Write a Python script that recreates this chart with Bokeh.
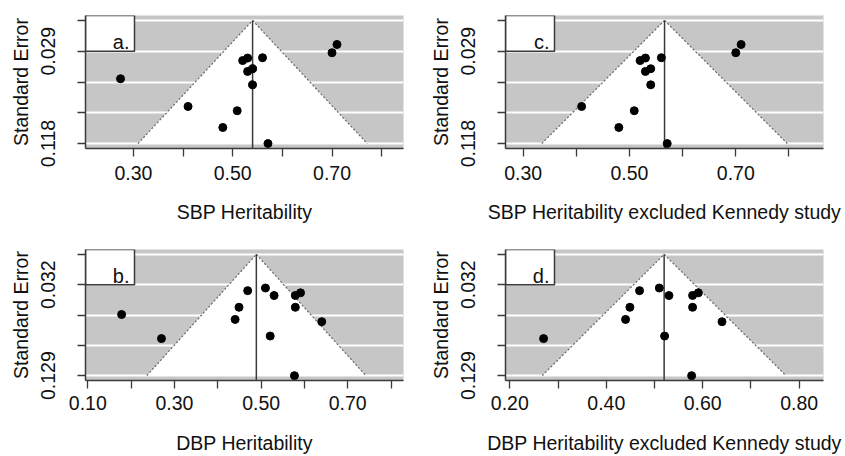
from bokeh.plotting import figure
from bokeh.models import Range1d, FixedTicker, CustomJSTickFormatter, Label
from bokeh.layouts import column, row
from bokeh.embed import file_html
from bokeh.resources import INLINE

FONT = "Liberation Sans"
FS = "19.5px"

# SBP heritability studies (Kennedy study kept separately)
sbp_h2 = [0.410, 0.480, 0.509, 0.520, 0.530, 0.530, 0.540, 0.540, 0.560, 0.571, 0.700, 0.710]
sbp_se = [0.0823, 0.1024, 0.0864, 0.0384, 0.0360, 0.0488, 0.0462, 0.0616, 0.0357, 0.1178, 0.0309, 0.0230]
sbp_kennedy_h2 = [0.274]
sbp_kennedy_se = [0.0558]
sbp_pooled_all = 0.540
sbp_pooled_excl = 0.566
sbp_se_max = 0.1178

# DBP heritability studies (Kennedy study kept separately)
dbp_h2 = [0.270, 0.440, 0.449, 0.469, 0.510, 0.530, 0.521, 0.579, 0.591, 0.579, 0.640, 0.577]
dbp_se = [0.0896, 0.0692, 0.0563, 0.0386, 0.0358, 0.0438, 0.0869, 0.0437, 0.0409, 0.0563, 0.0716, 0.1290]
dbp_kennedy_h2 = [0.178]
dbp_kennedy_se = [0.0640]
dbp_pooled_all = 0.489
dbp_pooled_excl = 0.520
dbp_se_max = 0.129

# tick values and labels
x_ticks_a = [0.3, 0.4, 0.5, 0.6, 0.7, 0.8]
x_labels_a = ["0.30", "", "0.50", "", "0.70", ""]
x_ticks_b = [0.1, 0.2, 0.3, 0.4, 0.5, 0.6, 0.7, 0.8]
x_labels_b = ["0.10", "", "0.30", "", "0.50", "", "0.70", ""]
x_ticks_d = [0.2, 0.3, 0.4, 0.5, 0.6, 0.7, 0.8]
x_labels_d = ["0.20", "", "0.40", "", "0.60", "", "0.80"]
y_labels_sbp = ["", "0.029", "", "", "0.118"]
y_labels_dbp = ["", "0.032", "", "", "0.129"]

GREY = "#c6c6c6"
DARK = "#3a3a3a"
TXT = "#111111"


def fmt(vals, labs):
    return CustomJSTickFormatter(args=dict(vals=vals, labs=labs), code="""
        for (let i = 0; i < vals.length; i++) {
            if (Math.abs(tick - vals[i]) < 1e-6) return labs[i];
        }
        return "";
    """)


def panel(h2, se, pooled, se_max, xr, xt, xl, yl, title, tag, width, height, mb, xso):
    left, right, top, bottom = mb
    frame_w = width - left - right
    ystart, yend = 1.04 * se_max, -0.04 * se_max
    p = figure(width=width, height=height, output_backend="svg", toolbar_location=None,
               x_range=Range1d(*xr), y_range=Range1d(ystart, yend),
               min_border_left=left, min_border_right=right,
               min_border_top=top, min_border_bottom=bottom)
    p.background_fill_color = GREY
    p.border_fill_color = "white"
    p.outline_line_color = None
    yt = [0, se_max / 4, se_max / 2, 3 * se_max / 4, se_max]
    xpx = (xr[1] - xr[0]) / frame_w     # data units per pixel (x)

    # funnel
    z = 1.96
    lx, rx = pooled - z * se_max, pooled + z * se_max
    p.patch([lx, pooled, rx], [se_max, 0, se_max], fill_color="white", line_color=None)
    p.line([lx, pooled], [se_max, 0], line_color="#666666", line_width=1.2, line_dash="2 2")
    p.line([pooled, rx], [0, se_max], line_color="#666666", line_width=1.2, line_dash="2 2")
    p.segment(x0=[pooled], y0=[0], x1=[pooled], y1=[ystart], line_color=DARK, line_width=1.5)
    p.scatter(h2, se, size=8, color="black")

    # tag box
    bx1 = xr[0] + 49 * xpx
    p.quad(left=[xr[0]], right=[bx1], top=[yend], bottom=[se_max / 4],
           fill_color="white", line_color=DARK, line_width=1.5)
    p.add_layout(Label(x=bx1 - 5 * xpx, y=0.7 * se_max / 4, text=tag, text_align="right",
                       text_baseline="alphabetic", text_font=FONT, text_font_size="20px",
                       text_color=TXT))

    p.xgrid.visible = False
    p.ygrid.ticker = FixedTicker(ticks=yt)
    p.ygrid.grid_line_color = "white"
    p.ygrid.grid_line_width = 2

    for ax in (p.xaxis[0], p.yaxis[0]):
        ax.axis_line_color = DARK
        ax.axis_line_width = 1.5
        ax.major_tick_line_color = DARK
        ax.major_tick_line_width = 1.3
        ax.major_tick_out = 8
        ax.major_tick_in = 0
        ax.minor_tick_out = 0
        ax.minor_tick_in = 0
        ax.major_label_text_font = FONT
        ax.major_label_text_font_size = FS
        ax.major_label_text_color = TXT
        ax.axis_label_text_font = FONT
        ax.axis_label_text_font_size = FS
        ax.axis_label_text_font_style = "normal"
        ax.axis_label_text_color = TXT

    p.xaxis.ticker = FixedTicker(ticks=xt)
    p.xaxis.formatter = fmt(xt, xl)
    p.xaxis.axis_label = title
    p.xaxis.major_label_standoff = xso[0]
    p.xaxis.axis_label_standoff = xso[1]

    p.yaxis.ticker = FixedTicker(ticks=yt)
    p.yaxis.formatter = fmt(yt, yl)
    p.yaxis.axis_label = "Standard Error"
    p.yaxis.major_label_orientation = "vertical"
    p.yaxis.major_label_standoff = 22
    p.yaxis.axis_label_standoff = 7
    return p


pa = panel(sbp_kennedy_h2 + sbp_h2, sbp_kennedy_se + sbp_se, sbp_pooled_all, sbp_se_max,
           (0.2034, 0.844), x_ticks_a, x_labels_a, y_labels_sbp, "SBP Heritability", "a.",
           424, 227, (85, 21, 15, 79), (9, 18))
pc = panel(sbp_h2, sbp_se, sbp_pooled_excl, sbp_se_max,
           (0.2668, 0.865), x_ticks_a, x_labels_a, y_labels_sbp,
           "SBP Heritability excluded Kennedy study", "c.", 421, 227, (81, 22, 15, 79), (9, 18))
pb = panel(dbp_kennedy_h2 + dbp_h2, dbp_kennedy_se + dbp_se, dbp_pooled_all, dbp_se_max,
           (0.0946, 0.8287), x_ticks_b, x_labels_b, y_labels_dbp, "DBP Heritability", "b.",
           424, 229, (85, 21, 22, 75), (7, 19))
pd = panel(dbp_h2, dbp_se, dbp_pooled_excl, dbp_se_max,
           (0.191, 0.8505), x_ticks_d, x_labels_d, y_labels_dbp,
           "DBP Heritability excluded Kennedy study", "d.", 421, 229, (81, 22, 22, 75), (7, 19))

layout = column(row(pa, pc), row(pb, pd))
open("out.html", "w").write(file_html(layout, INLINE))
